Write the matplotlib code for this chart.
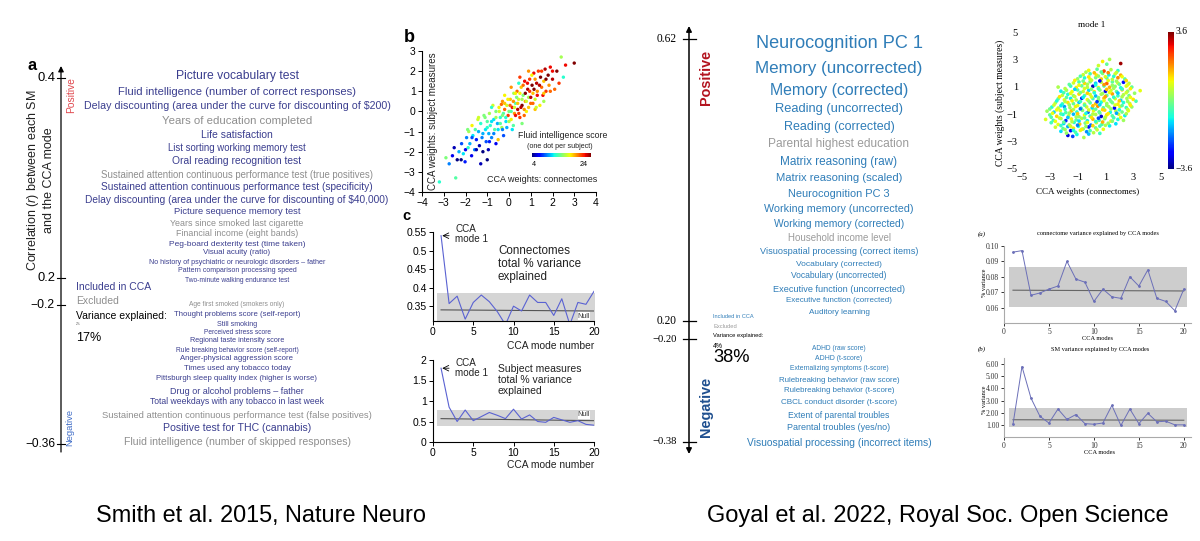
import numpy as np
import matplotlib
matplotlib.use('Agg')
import matplotlib.pyplot as plt

# ---------------- data ----------------
# panel a: subject measures ordered by correlation with CCA mode (Smith 2015)
a_labels = [
    "Picture vocabulary test",
    "Fluid intelligence (number of correct responses)",
    "Delay discounting (area under the curve for discounting of \\$200)",
    "Years of education completed",
    "Life satisfaction",
    "List sorting working memory test",
    "Oral reading recognition test",
    "Sustained attention continuous performance test (true positives)",
    "Sustained attention continuous performance test (specificity)",
    "Delay discounting (area under the curve for discounting of \\$40,000)",
    "Picture sequence memory test",
    "Years since smoked last cigarette",
    "Financial income (eight bands)",
    "Peg-board dexterity test (time taken)",
    "Visual acuity (ratio)",
    "No history of psychiatric or neurologic disorders \u2013 father",
    "Pattern comparison processing speed",
    "Two-minute walking endurance test",
    "Age first smoked (smokers only)",
    "Thought problems score (self-report)",
    "Still smoking",
    "Perceived stress score",
    "Regional taste intensity score",
    "Rule breaking behavior score (self-report)",
    "Anger-physical aggression score",
    "Times used any tobacco today",
    "Pittsburgh sleep quality index (higher is worse)",
    "Drug or alcohol problems \u2013 father",
    "Total weekdays with any tobacco in last week",
    "Sustained attention continuous performance test (false positives)",
    "Positive test for THC (cannabis)",
    "Fluid intelligence (number of skipped responses)",
]
a_included = [1, 1, 1, 0, 1, 1, 1, 0, 1, 1, 1, 0, 0, 1, 1, 1, 1, 1,
              0, 1, 1, 1, 1, 1, 1, 1, 1, 1, 1, 0, 1, 0]
a_ticks = ["0.4", "0.2", "\u22120.2", "\u22120.36"]

# panel b: CCA weights, coloured by fluid intelligence score
b_x = [-3.2, -2.9, -2.75, -2.6, -2.52, -2.45, -2.38, -2.3, -2.18, -2.1,
       -2.02, -1.95, -1.88, -1.85, -1.8, -1.72, -1.7, -1.66, -1.58, -1.55,
       -1.5, -1.43, -1.4, -1.36, -1.3, -1.24, -1.2, -1.15, -1.08, -1.05,
       -1.0, -0.93, -0.9, -0.86, -0.8, -0.74, -0.7, -0.66, -0.6, -0.53,
       -0.5, -0.46, -0.4, -0.33, -0.3, -0.26, -0.2, -0.14, -0.1, -0.04,
       0.0, 0.06, 0.1, 0.15, 0.22, 0.25, 0.3, 0.37, 0.4, 0.44,
       0.5, 0.56, 0.6, 0.65, 0.72, 0.75, 0.8, 0.86, 0.9, 0.95,
       1.0, 1.06, 1.1, 1.14, 1.2, 1.27, 1.3, 1.35, 1.42, 1.45,
       1.5, 1.56, 1.6, 1.66, 1.7, 1.8, 1.84, 1.9, 2.0, 2.1,
       2.2, 2.3, 2.4, 2.5, 2.6, 3.0,
       -0.3, 0.2, -0.6, 0.7, 1.2, -1.0, -1.3, -0.2, 0.5, -0.8, 0.9, -1.9, 1.6,
       -1.2, -1.0, -0.9, -0.7, -0.6, -0.5, -0.45, -0.4, -0.3, -0.25,
       -0.2, -0.15, -0.1, -0.05, 0.0, 0.05, 0.1, 0.15, 0.2, 0.25,
       0.3, 0.35, 0.4, 0.45, 0.5, 0.55, 0.6, 0.65, 0.7, 0.75,
       0.8, 0.85, 0.9, 0.95, 1.0, 1.05, 1.1, 1.15, 1.2, 1.3,
       1.4, 1.5, 1.6, 1.7, 1.9, 2.0, -1.5, -1.7, -2.0, -2.2,
       -1.1, -0.8, 0.3, 0.6, -0.35, 1.25, -0.95, 0.1, 0.45, -1.4]
b_y = [-3.5, -2.3, -2.6, -2.2, -1.8, -3.3, -2.4, -2.0, -1.6, -2.1,
       -2.5, -1.3, -1.8, -1.0, -1.6, -2.2, -0.7, -1.2, -1.9, -0.9,
       -1.4, -0.4, -1.0, -1.7, -0.6, -1.3, -2.0, -0.2, -0.9, -1.5,
       -0.5, -1.1, -0.1, -0.7, -1.3, 0.3, -0.4, -0.9, 0.0, -0.6,
       -1.4, 0.2, -0.3, -0.8, 0.5, -0.1, 0.1, -0.5, 0.3, -0.2,
       0.0, 0.6, -0.4, 0.2, 0.9, -0.1, 0.4, 1.0, 0.1, 0.6,
       -0.3, 1.2, 0.3, 0.8, 1.5, 0.5, 0.0, 1.1, 0.7, 1.6,
       0.4, 1.3, 0.9, 1.9, 0.6, 1.4, 1.0, 2.0, 0.3, 1.7,
       1.2, 0.8, 1.5, 2.1, 1.0, 1.8, 1.3, 2.2, 1.6, 1.1,
       2.0, 1.4, 2.7, 1.7, 2.3, 2.4,
       -0.9, -0.7, -1.6, -0.2, 0.1, -2.4, -2.6, 0.8, 1.7, 0.2, 2.0, -0.9, 0.5,
       -1.1, -0.8, -1.5, -1.1, -0.3, -0.9, 0.0, -0.6, -0.2, -1.2,
       0.4, -0.3, -0.8, 0.6, -0.5, 0.3, 0.0, -0.9, 0.5, 0.2,
       -0.2, 0.7, 0.4, -0.1, 0.9, 0.2, 0.6, 1.3, 0.1, 0.9,
       0.5, 1.4, 0.2, 1.0, 0.7, 1.8, 0.4, 1.1, 1.6, 0.8,
       1.3, 2.0, 0.9, 1.6, 1.0, 2.0, -1.9, -1.3, -1.9, -2.4,
       -0.3, -0.5, 0.9, -0.6, 0.35, 0.2, -1.9, 1.2, 1.4, -0.3]
b_score = [12, 14, 9, 6, 5, 13, 4, 10, 8, 11,
           7, 9, 12, 15, 10, 6, 17, 11, 9, 13,
           7, 16, 10, 5, 12, 9, 4, 14, 11, 8,
           13, 10, 15, 12, 9, 16, 11, 13, 14, 10,
           18, 17, 12, 15, 19, 13, 20, 11, 16, 21,
           14, 18, 17, 22, 15, 19, 13, 20, 23, 16,
           21, 18, 24, 14, 22, 19, 17, 23, 15, 21,
           20, 24, 18, 22, 16, 23, 19, 21, 17, 24,
           20, 22, 18, 23, 21, 24, 19, 22, 23, 20,
           24, 21, 15, 12, 22, 24,
           9, 13, 6, 20, 18, 4, 5, 17, 21, 12, 19, 14, 15,
           10, 12, 7, 9, 15, 11, 16, 13, 14, 8,
           18, 12, 10, 17, 15, 20, 13, 11, 19, 16,
           22, 14, 18, 21, 17, 23, 15, 20, 19, 24,
           16, 22, 18, 21, 23, 17, 20, 24, 19, 22,
           23, 21, 18, 24, 20, 22, 5, 8, 6, 4,
           14, 11, 17, 14, 20, 16, 5, 19, 12, 16]

# panel c: % variance explained per CCA mode
modes = np.arange(1, 21)
c_conn = [0.54, 0.357, 0.377, 0.315, 0.36, 0.38, 0.362, 0.335, 0.30, 0.35,
          0.337, 0.38, 0.36, 0.36, 0.325, 0.37, 0.30, 0.36, 0.355, 0.39]
c_conn_null = [0.340, 0.337]
c_conn_band = [0.30, 0.386]
c_subj = [1.8, 0.85, 0.5, 0.78, 0.52, 0.62, 0.72, 0.65, 0.57, 0.8,
          0.56, 0.66, 0.5, 0.48, 0.6, 0.54, 0.48, 0.52, 0.43, 0.41]
c_subj_null = [0.57, 0.52]
c_subj_band = [0.40, 0.78]

# right: Goyal 2022 subject measures
g_labels = [
    "Neurocognition PC 1", "Memory (uncorrected)", "Memory (corrected)",
    "Reading (uncorrected)", "Reading (corrected)", "Parental highest education",
    "Matrix reasoning (raw)", "Matrix reasoning (scaled)", "Neurocognition PC 3",
    "Working memory (uncorrected)", "Working memory (corrected)",
    "Household income level", "Visuospatial processing (correct items)",
    "Vocabulary (corrected)", "Vocabulary (uncorrected)",
    "Executive function (uncorrected)", "Executive function (corrected)",
    "Auditory learning",
    "ADHD (raw score)", "ADHD (t-score)", "Externalizing symptoms (t-score)",
    "Rulebreaking behavior (raw score)", "Rulebreaking behavior (t-score)",
    "CBCL conduct disorder (t-score)", "Extent of parental troubles",
    "Parental troubles (yes/no)", "Visuospatial processing (incorrect items)",
]
g_included = [1, 1, 1, 1, 1, 0, 1, 1, 1, 1, 1, 0, 1, 1, 1, 1, 1, 1,
              1, 1, 1, 1, 1, 1, 1, 1, 1]
g_ticks = ["0.62", "0.20", "\u22120.20", "\u22120.38"]

# right scatter: mode 1 weights (colour = third variable, -3.6..3.6)
s_x = [-1.7, -1.35, -1.05, -0.55, -0.2,
       -2.2, -1.8, -1.5, -1.15, -0.8, -0.35, 0.15, 0.6,
       -2.6, -2.05, -1.7, -1.3, -0.95, -0.6, -0.2, 0.3, 0.85, 1.3,
       -2.9, -2.4, -2.0, -1.6, -1.25, -0.85, -0.45, -0.05, 0.35, 0.75, 1.2, 1.75,
       -3.3, -2.75, -2.2, -1.85, -1.45, -1.1, -0.7, -0.3, 0.1, 0.55, 0.95, 1.4, 1.9, 2.3,
       -3.0, -2.5, -2.05, -1.65, -1.3, -0.9, -0.5, -0.1, 0.3, 0.7, 1.1, 1.5, 1.95, 2.4,
       -3.2, -2.7, -2.25, -1.85, -1.45, -1.05, -0.65, -0.25, 0.15, 0.55, 0.95, 1.35, 1.75, 2.2, 2.65,
       -2.85, -2.4, -1.95, -1.55, -1.15, -0.75, -0.35, 0.05, 0.45, 0.85, 1.25, 1.65, 2.05, 2.5, 2.9,
       -2.6, -2.1, -1.7, -1.3, -0.9, -0.5, -0.1, 0.3, 0.7, 1.1, 1.5, 1.9, 2.3, 2.75,
       -2.4, -1.95, -1.5, -1.1, -0.7, -0.3, 0.1, 0.5, 0.9, 1.3, 1.7, 2.1, 2.55, 3.0,
       -2.1, -1.7, -1.3, -0.9, -0.5, -0.1, 0.3, 0.7, 1.1, 1.5, 1.9, 2.3, 2.7,
       -2.2, -1.8, -1.4, -1.0, -0.6, -0.2, 0.2, 0.6, 1.0, 1.4, 1.8, 2.2, 2.6, 3.5,
       -2.4, -1.5, -1.1, -0.7, -0.3, 0.1, 0.5, 0.9, 1.3, 1.7, 2.1, 2.5, 2.9,
       -1.3, -0.9, -0.5, -0.1, 0.3, 0.7, 1.1, 1.5, 1.9, 2.3, 2.7,
       -1.0, -0.5, -0.1, 0.3, 0.7, 1.1, 1.5, 1.9, 2.4,
       -0.6, -0.1, 0.35, 0.8, 1.25, 1.7, 2.1,
       -0.2, 0.4, 0.9, 1.4, 1.9,
       0.5, 1.1, 2.1, 1.3, 0.8,
       -1.9, -1.3, -0.7, -0.1, 0.4,
       -2.2, -1.5, -1.0, -0.4, 0.1, 0.6, 1.0,
       -2.6, -2.0, -1.4, -0.9, -0.3, 0.3, 0.8, 1.5,
       -2.9, -2.3, -1.7, -1.1, -0.5, 0.0, 0.5, 1.0, 1.6, 2.1,
       -2.8, -2.2, -1.6, -1.0, -0.4, 0.1, 0.6, 1.2, 1.8, 2.5,
       -3.0, -2.5, -1.9, -1.3, -0.8, -0.2, 0.3, 0.8, 1.4, 2.0, 2.6,
       -2.7, -2.2, -1.6, -1.0, -0.5, 0.1, 0.6, 1.1, 1.7, 2.2, 2.8,
       -2.5, -1.9, -1.4, -0.8, -0.2, 0.4, 0.9, 1.4, 2.0, 2.6, 3.2,
       -2.3, -1.8, -1.2, -0.6, 0.0, 0.5, 1.0, 1.6, 2.2, 2.8,
       -2.0, -1.5, -0.8, -0.3, 0.2, 0.8, 1.3, 1.9, 2.5, 3.1,
       -1.9, -1.2, -0.5, 0.0, 0.5, 1.1, 1.6, 2.2, 2.8,
       -1.6, -0.9, -0.3, 0.3, 0.9, 1.5, 2.0, 2.6,
       -1.2, -0.6, 0.0, 0.6, 1.2, 1.8, 2.5,
       -0.8, -0.2, 0.5, 1.0, 1.6, 2.2,
       -0.4, 0.2, 0.7, 1.2, 1.8]
s_y = [-2.55, -2.62, -2.48, -2.7, -2.45,
       -2.25, -2.38, -2.2, -2.32, -2.18, -2.28, -2.35, -2.4,
       -1.95, -2.05, -1.9, -2.02, -1.88, -2.08, -1.93, -2.0, -2.1, -1.85,
       -1.62, -1.75, -1.68, -1.78, -1.6, -1.72, -1.65, -1.8, -1.62, -1.74, -1.66, -1.7,
       -1.38, -1.45, -1.32, -1.47, -1.35, -1.42, -1.3, -1.48, -1.36, -1.44, -1.33, -1.5, -1.38, -1.45,
       -1.05, -1.15, -1.02, -1.12, -1.0, -1.18, -1.06, -1.14, -1.02, -1.16, -1.04, -1.12, -1.0, -1.1,
       -0.78, -0.85, -0.74, -0.88, -0.76, -0.84, -0.72, -0.86, -0.75, -0.83, -0.7, -0.86, -0.77, -0.84, -0.75,
       -0.48, -0.55, -0.45, -0.52, -0.44, -0.56, -0.47, -0.54, -0.42, -0.53, -0.46, -0.55, -0.44, -0.52, -0.47,
       -0.18, -0.25, -0.15, -0.23, -0.14, -0.26, -0.17, -0.24, -0.12, -0.22, -0.16, -0.27, -0.15, -0.22,
       0.12, 0.05, 0.15, 0.04, 0.16, 0.06, 0.14, 0.03, 0.17, 0.07, 0.13, 0.02, 0.15, 0.08,
       0.38, 0.45, 0.35, 0.47, 0.36, 0.44, 0.33, 0.46, 0.37, 0.48, 0.34, 0.42, 0.36,
       0.68, 0.75, 0.65, 0.77, 0.66, 0.74, 0.64, 0.76, 0.67, 0.73, 0.65, 0.78, 0.68, 0.72,
       0.98, 1.05, 0.95, 1.07, 0.96, 1.04, 0.94, 1.06, 0.97, 1.03, 0.93, 1.05, 0.98,
       1.28, 1.35, 1.25, 1.37, 1.26, 1.34, 1.24, 1.36, 1.27, 1.33, 1.25,
       1.58, 1.65, 1.55, 1.67, 1.57, 1.64, 1.54, 1.66, 1.57,
       1.88, 1.95, 1.86, 1.97, 1.87, 1.94, 1.85,
       2.2, 2.28, 2.15, 2.25, 2.18,
       2.55, 2.65, 2.7, 3.0, 2.85,
       -2.12, -2.18, -2.1, -2.2, -2.14,
       -1.83, -1.88, -1.8, -1.9, -1.84, -1.87, -1.81,
       -1.52, -1.58, -1.55, -1.5, -1.6, -1.53, -1.57, -1.51,
       -1.22, -1.28, -1.24, -1.2, -1.27, -1.23, -1.29, -1.21, -1.26, -1.24,
       -0.93, -0.98, -0.92, -0.97, -0.94, -0.99, -0.91, -0.96, -0.93, -0.97,
       -0.62, -0.68, -0.64, -0.66, -0.61, -0.69, -0.63, -0.67, -0.62, -0.68, -0.65,
       -0.33, -0.38, -0.32, -0.37, -0.34, -0.39, -0.31, -0.36, -0.33, -0.37, -0.35,
       -0.03, -0.08, -0.02, -0.07, -0.04, -0.09, -0.01, -0.06, -0.03, -0.07, -0.05,
       0.27, 0.22, 0.28, 0.23, 0.26, 0.21, 0.29, 0.24, 0.27, 0.23,
       0.57, 0.52, 0.58, 0.53, 0.56, 0.51, 0.59, 0.54, 0.57, 0.53,
       0.87, 0.82, 0.88, 0.83, 0.86, 0.81, 0.89, 0.84, 0.86,
       1.17, 1.12, 1.18, 1.13, 1.16, 1.11, 1.19, 1.14,
       1.47, 1.42, 1.48, 1.43, 1.46, 1.41, 1.45,
       1.77, 1.72, 1.78, 1.73, 1.76, 1.74,
       2.07, 2.02, 2.08, 2.03, 2.05]
s_c = [-3.0, -2.2, -0.9, 0.4, -1.3,
       -1.1, 0.2, -2.8, -0.4, 0.9, -1.7, 0.5, -0.6,
       0.7, -0.3, -1.5, 1.2, -0.8, 0.1, -2.6, -0.2, 1.0, -1.0,
       -0.5, 0.9, -1.2, 0.3, -0.7, 1.4, -0.1, -1.9, 0.6, -0.4, 0.2, -1.1,
       0.8, -0.6, 0.4, -2.4, 1.1, -0.3, 0.5, -1.0, 1.6, -0.5, 0.0, 0.9, -0.8, 0.3,
       -0.2, 1.3, -0.9, 0.6, -1.4, 0.2, 1.0, -0.6, 0.4, -3.1, 1.2, -0.3, 0.7, -1.0,
       0.3, -1.2, 0.8, -0.4, 1.5, -0.7, 0.1, -2.0, 0.9, -0.2, 1.3, -0.9, 0.5, -0.1, 1.0,
       -0.8, 0.6, -1.6, 0.2, 1.1, -0.5, 0.7, -1.1, 1.8, -0.3, 0.4, -2.7, 0.9, -0.6, 0.2,
       0.5, -0.7, 1.2, -0.2, -1.3, 0.8, -0.4, 1.4, -0.9, 0.3, -0.1, 1.1, -0.8, 0.6,
       -0.3, 0.9, -1.0, 0.4, -2.5, 1.0, -0.6, 0.2, 1.5, -0.4, 0.7, -1.2, 0.3, 1.2,
       0.6, -0.8, 0.1, 1.3, -0.5, 0.8, -1.4, 0.4, -0.2, 1.7, -0.6, 0.5, -0.1,
       -1.0, 0.3, 1.0, -0.4, 0.6, -1.1, 1.2, 0.0, -2.9, 0.7, -0.3, 1.4, 0.2, 0.9,
       0.4, -0.6, 1.1, -0.2, 0.5, -3.2, 0.9, -0.5, 1.6, 0.1, -0.9, 0.8, -0.2,
       0.7, -0.4, 1.3, 0.0, -1.2, 0.6, 2.2, -0.3, 0.9, -2.6, 0.4,
       0.2, -0.8, 0.9, -0.1, 1.4, -0.6, 0.5, 1.9, -0.3,
       0.6, -0.5, 1.2, 0.1, -1.0, 0.8, 1.6,
       1.0, -0.3, 2.4, 0.5, -0.7,
       0.7, -0.2, 3.4, 0.4, 1.1,
       0.3, -0.9, 1.1, -0.4, 0.6,
       -0.6, 0.8, -1.8, 0.2, 1.3, -0.5, 0.4,
       1.0, -0.2, 0.5, -1.1, 0.9, -0.7, 1.6, 0.1,
       -0.4, 0.7, -1.3, 0.3, -0.1, 1.2, -2.2, 0.6, -0.5, 1.0,
       0.9, -0.5, 0.2, 1.4, -0.9, 0.5, -0.2, 1.1, -1.5, 0.4,
       -0.1, 1.0, -0.7, 0.4, -1.9, 0.8, -0.3, 1.3, 0.1, -0.8, 0.6,
       0.7, -1.0, 0.3, 0.9, -0.4, 1.5, -1.2, 0.2, 0.8, -0.3, 1.1,
       -0.8, 0.5, 1.1, -0.6, 0.2, -2.3, 0.9, -0.1, 1.4, 0.3, -0.5,
       1.2, -0.3, 0.6, -1.0, 0.8, 0.0, 1.7, -0.7, 0.4, 1.0,
       -0.5, 0.9, -0.1, 1.4, -0.8, 0.3, 1.0, -1.3, 0.7, 0.2,
       0.5, -1.2, 0.8, 0.1, -0.4, 1.5, 0.3, -0.6, 1.1,
       -0.3, 1.0, 0.4, -0.9, 1.8, 0.2, -0.2, 0.9,
       1.1, -0.1, 0.6, -2.8, 0.9, 0.3, 1.3,
       -0.4, 1.2, 0.2, 0.8, -0.7, 1.0,
       0.4, 1.5, -0.3, 1.9, 0.6]

# right line plots
g_conn = [0.096, 0.097, 0.068, 0.0695, 0.072, 0.074, 0.090, 0.0785, 0.0765, 0.064,
          0.072, 0.067, 0.066, 0.080, 0.074, 0.0845, 0.066, 0.064, 0.058, 0.072]
g_conn_null = [0.0713, 0.0708]
g_conn_band = [0.0605, 0.0865]
g_sm = [1.05, 5.8, 3.2, 1.7, 1.15, 2.3, 1.45, 1.85, 1.1, 1.05,
        1.15, 2.6, 0.95, 2.3, 1.1, 1.95, 1.25, 1.3, 1.0, 1.0]
g_sm_null = [1.42, 1.38]
g_sm_band = [0.82, 2.35]

# ---------------- layout (pixels) ----------------
W, H = 1200, 541
a_cx = 237
a_y = [76, 92, 106, 121, 135, 148, 161, 175, 187, 200, 212, 223, 233, 245, 253,
       263, 271, 280, 305, 315, 324, 332, 341, 350, 359, 369, 379, 391, 401, 415,
       428, 442]
a_w = [123, 239, 305, 150, 72, 139, 130, 275, 272, 305, 127, 133, 121, 136, 67,
       177, 117, 104, 96, 126, 40, 67, 95, 123, 113, 106, 161, 135, 173, 270,
       148, 226]
a_tick_y = [78, 278, 305, 444]
g_cx = 839
g_y = [43, 68, 91, 109, 127, 144, 162, 178, 194, 209, 224, 238, 251, 264, 276,
       289, 301, 312, 348, 358, 368, 380, 391, 403, 415, 428, 443]
g_w = [168, 168, 139, 129, 111, 142, 118, 127, 102, 150, 130, 104, 158, 86, 96,
       132, 106, 61, 54, 47, 99, 121, 111, 116, 101, 104, 184]
g_tick_y = [39, 321, 339, 442]

A_BLUE, A_GRAY = '#3b3e8f', '#8e8e8e'
G_BLUE, G_GRAY = '#2f7db8', '#9b9b9b'
LINE_C = '#5a62d2'
BAND_C = '#d5d5d5'
SERIF = ['Liberation Serif', 'DejaVu Serif']

plt.rcParams['font.family'] = ['Liberation Sans', 'DejaVu Sans']
plt.rcParams['mathtext.fontset'] = 'custom'
plt.rcParams['mathtext.it'] = 'Liberation Sans:italic'
plt.rcParams['mathtext.rm'] = 'Liberation Sans'

fig = plt.figure(figsize=(12, 5.41), dpi=100)
renderer = fig.canvas.get_renderer()

ov = fig.add_axes([0, 0, 1, 1])
ov.set_xlim(0, W)
ov.set_ylim(H, 0)
ov.axis('off')
ov.set_zorder(10)


def fit_text(ax, x, y, s, width, rot=0, **kw):
    """place text and scale it so its long side is `width` pixels"""
    kw.setdefault('ha', 'center')
    kw.setdefault('va', 'center')
    t = ax.text(x, y, s, fontsize=10, rotation=rot, **kw)
    bb = t.get_window_extent(renderer)
    span = bb.height if rot else bb.width
    t.set_fontsize(10 * width / span)
    return t


def px_axes(l, t, r, b):
    return fig.add_axes([l / W, 1 - b / H, (r - l) / W, (b - t) / H])


def style_ax(ax, size=7.5, family=None):
    for side in ['top', 'right']:
        ax.spines[side].set_visible(False)
    ax.tick_params(direction='out', length=3, width=0.7, labelsize=size, pad=1.5)
    if family:
        for lab in ax.get_xticklabels() + ax.get_yticklabels():
            lab.set_family(family)


# ---------------- panel a ----------------
fit_text(ov, 32, 66, 'a', 9, weight='bold')
ov.annotate('', xy=(61, 66), xytext=(61, 452),
            arrowprops=dict(arrowstyle='-|>', color='k', lw=0.9, mutation_scale=8,
                            shrinkA=0, shrinkB=0))
for lab, y in zip(a_ticks, a_tick_y):
    ov.plot([57, 65], [y, y], color='k', lw=0.8)
    fit_text(ov, 55, y, lab, 6 * len(lab), ha='right')
fit_text(ov, 40, 180, 'Correlation ($r$) between each SM\nand the CCA mode', 182,
         rot=90, color='#222222', linespacing=1.3)
fit_text(ov, 71, 95, 'Positive', 36, rot=90, color='#e0484e')
fit_text(ov, 70, 428, 'Negative', 37, rot=90, color='#3f6cc6')

for lab, y, w, inc in zip(a_labels, a_y, a_w, a_included):
    fit_text(ov, a_cx, y, lab, w, color=A_BLUE if inc else A_GRAY)

fit_text(ov, 76, 287, 'Included in CCA', 75, ha='left', color=A_BLUE)
fit_text(ov, 76, 301, 'Excluded', 43, ha='left', color=A_GRAY)
fit_text(ov, 76, 316, 'Variance explained:', 91, ha='left', color='k')
fit_text(ov, 76, 324, '2%', 5, ha='left', color='#555555')
fit_text(ov, 76, 338, '17%', 25, ha='left', color='k')

# ---------------- panel b ----------------
fit_text(ov, 409, 37, 'b', 11, weight='bold')
axb = px_axes(422, 51, 596, 192)
axb.scatter(b_x, b_y, c=b_score, cmap='jet', vmin=4, vmax=24, s=6, lw=0)
axb.set_xlim(-4, 4)
axb.set_ylim(-4, 3)
axb.set_xticks(range(-4, 5))
axb.set_yticks(range(-4, 4))
style_ax(axb)
fit_text(ov, 433, 121, 'CCA weights: subject measures', 138, rot=90, color='#222222')
fit_text(ov, 597, 180, 'CCA weights: connectomes', 110, ha='right', color='#222222')
fit_text(ov, 607, 135, 'Fluid intelligence score', 90, ha='right', color='#222222')
fit_text(ov, 560, 147, '(one dot per subject)', 66, color='#222222')
cax_b = px_axes(532, 153, 591, 157)
cb = fig.colorbar(axb.collections[0], cax=cax_b, orientation='horizontal')
cb.set_ticks([])
cb.outline.set_visible(False)
fit_text(ov, 534, 165, '4', 4)
fit_text(ov, 584, 165, '24', 8)

# ---------------- panel c ----------------
fit_text(ov, 406, 216, 'c', 8, weight='bold')

axc1 = px_axes(433, 232, 594, 321)
axc1.fill_between([0.5, 20.2], c_conn_band[0], c_conn_band[1], color=BAND_C, lw=0)
axc1.plot([1, 20], c_conn_null, color='#555555', lw=0.8)
axc1.plot(modes, c_conn, color=LINE_C, lw=0.8)
axc1.set_xlim(0, 20)
axc1.set_ylim(0.31, 0.55)
axc1.set_xticks([0, 5, 10, 15, 20])
axc1.set_yticks([0.35, 0.4, 0.45, 0.5, 0.55])
axc1.set_yticklabels(['0.35', '0.4', '0.45', '0.5', '0.55'])
style_ax(axc1)
axc1.annotate('', xy=(1.15, 0.54), xytext=(2.0, 0.54),
              arrowprops=dict(arrowstyle='->', lw=0.6, color='k', shrinkA=0, shrinkB=0))
fit_text(ov, 455, 234, 'CCA\nmode 1', 33, ha='left', color='#222222', linespacing=1.0)
fit_text(ov, 498, 264, 'Connectomes\ntotal % variance\nexplained', 83, ha='left',
         color='#222222', linespacing=1.15)
fit_text(ov, 584, 316, 'Null', 12, color='#333333',
         bbox=dict(facecolor='white', edgecolor='none', pad=0.3))
fit_text(ov, 594, 346, 'CCA mode number', 88, ha='right', color='#222222')

axc2 = px_axes(433, 360, 594, 442)
axc2.fill_between([0.5, 20.2], c_subj_band[0], c_subj_band[1], color=BAND_C, lw=0)
axc2.plot([1, 20], c_subj_null, color='#555555', lw=0.8)
axc2.plot(modes, c_subj, color=LINE_C, lw=0.8)
axc2.set_xlim(0, 20)
axc2.set_ylim(0, 2)
axc2.set_xticks([0, 5, 10, 15, 20])
axc2.set_yticks([0, 0.5, 1, 1.5, 2])
axc2.set_yticklabels(['0', '0.5', '1', '1.5', '2'])
style_ax(axc2)
axc2.annotate('', xy=(1.15, 1.8), xytext=(2.0, 1.8),
              arrowprops=dict(arrowstyle='->', lw=0.6, color='k', shrinkA=0, shrinkB=0))
fit_text(ov, 455, 368, 'CCA\nmode 1', 33, ha='left', color='#222222', linespacing=1.0)
fit_text(ov, 498, 380, 'Subject measures\ntotal % variance\nexplained', 83, ha='left',
         color='#222222', linespacing=1.15)
fit_text(ov, 584, 415, 'Null', 12, color='#333333',
         bbox=dict(facecolor='white', edgecolor='none', pad=0.3))
fit_text(ov, 594, 465, 'CCA mode number', 88, ha='right', color='#222222')

# ---------------- right: Goyal word list ----------------
ov.annotate('', xy=(689, 26), xytext=(689, 454),
            arrowprops=dict(arrowstyle='<|-|>', color='k', lw=1.1, mutation_scale=8,
                            shrinkA=0, shrinkB=0))
for lab, y in zip(g_ticks, g_tick_y):
    ov.plot([683, 696], [y, y], color='k', lw=0.9)
    fit_text(ov, 677, y, lab, 4.5 * len(lab) + 2, ha='right', family=SERIF)
fit_text(ov, 706, 77, 'Positive', 55, rot=90, color='#b3141f', weight='bold')
fit_text(ov, 706, 407, 'Negative', 60, rot=90, color='#1f4f8f', weight='bold')

for lab, y, w, inc in zip(g_labels, g_y, g_w, g_included):
    fit_text(ov, g_cx, y, lab, w, color=G_BLUE if inc else G_GRAY)

fit_text(ov, 713, 316, 'Included in CCA', 41, ha='left', color=G_BLUE)
fit_text(ov, 713, 326, 'Excluded', 24, ha='left', color=G_GRAY)
fit_text(ov, 713, 336, 'Variance explained:', 50, ha='left', color='k')
fit_text(ov, 713, 346, '4%', 10, ha='left', color='k')
fit_text(ov, 713, 358, '38%', 37, ha='left', color='k')

# ---------------- right: mode 1 scatter ----------------
axs = px_axes(1022, 32, 1161, 169)
sc = axs.scatter(s_x, s_y, c=s_c, cmap='jet', vmin=-3.6, vmax=3.6, s=7, lw=0)
axs.set_xlim(-5, 5)
axs.set_ylim(-5, 5)
axs.set_xticks([-5, -3, -1, 1, 3, 5])
axs.set_yticks([-5, -3, -1, 1, 3, 5])
for sp in axs.spines.values():
    sp.set_visible(False)
axs.tick_params(length=0, labelsize=7.5, pad=3)
for lab in axs.get_xticklabels() + axs.get_yticklabels():
    lab.set_family(SERIF)
fit_text(ov, 1092, 25, 'mode 1', 27, family=SERIF)
fit_text(ov, 1088, 192, 'CCA weights (connectomes)', 104, family=SERIF)
fit_text(ov, 1000, 103, 'CCA weights (subject measures)', 125, rot=90, family=SERIF)
cax_s = px_axes(1168, 32, 1174, 169)
cb2 = fig.colorbar(sc, cax=cax_s)
cb2.set_ticks([])
cb2.outline.set_visible(False)
fit_text(ov, 1176, 32, '3.6', 12, ha='left', family=SERIF)
fit_text(ov, 1176, 169, '\u22123.6', 17, ha='left', family=SERIF)

# ---------------- right: variance line plots ----------------
axg1 = px_axes(1004, 246, 1191, 323)
axg1.fill_between([0.6, 20.4], g_conn_band[0], g_conn_band[1], color='#cdcdcd', lw=0)
axg1.plot([1, 20], g_conn_null, color='#666666', lw=0.8)
axg1.plot(modes, g_conn, color='#6b6fb8', lw=0.7, marker='.', ms=2)
axg1.set_xlim(0, 20.8)
axg1.set_ylim(0.05, 0.10)
axg1.set_xticks([0, 5, 10, 15, 20])
axg1.set_yticks([0.06, 0.07, 0.08, 0.09, 0.10])
axg1.set_yticklabels(['0.06', '0.07', '0.08', '0.09', '0.10'])
style_ax(axg1, size=5.5, family=SERIF)
for sp in axg1.spines.values():
    sp.set_color('#aaaaaa')
axg1.tick_params(length=2, colors='#333333')
fit_text(ov, 982, 234, '(a)', 8, family=SERIF, style='italic')
fit_text(ov, 1098, 234, 'connectome variance explained by CCA modes', 121, family=SERIF)
fit_text(ov, 1098, 338, 'CCA modes', 31, family=SERIF)
fit_text(ov, 985, 283, '% variance', 28, rot=90, family=SERIF)

axg2 = px_axes(1004, 358, 1191, 437)
axg2.fill_between([0.6, 20.4], g_sm_band[0], g_sm_band[1], color='#cdcdcd', lw=0)
axg2.plot([1, 20], g_sm_null, color='#666666', lw=0.8)
axg2.plot(modes, g_sm, color='#6b6fb8', lw=0.7, marker='.', ms=2)
axg2.set_xlim(0, 20.8)
axg2.set_ylim(0, 6.5)
axg2.set_xticks([0, 5, 10, 15, 20])
axg2.set_yticks([1, 2, 3, 4, 5, 6])
axg2.set_yticklabels(['1.00', '2.00', '3.00', '4.00', '5.00', '6.00'])
style_ax(axg2, size=5.5, family=SERIF)
for sp in axg2.spines.values():
    sp.set_color('#aaaaaa')
axg2.tick_params(length=2, colors='#333333')
fit_text(ov, 982, 349, '(b)', 8, family=SERIF, style='italic')
fit_text(ov, 1100, 349, 'SM variance explained by CCA modes', 98, family=SERIF)
fit_text(ov, 1100, 453, 'CCA modes', 31, family=SERIF)
fit_text(ov, 985, 400, '% variance', 28, rot=90, family=SERIF)

# ---------------- captions ----------------
fit_text(ov, 261, 516, 'Smith et al. 2015, Nature Neuro', 332, color='k')
fit_text(ov, 938, 516, 'Goyal et al. 2022, Royal Soc. Open Science', 463, color='k')

fig.savefig('out.png', dpi=100)
